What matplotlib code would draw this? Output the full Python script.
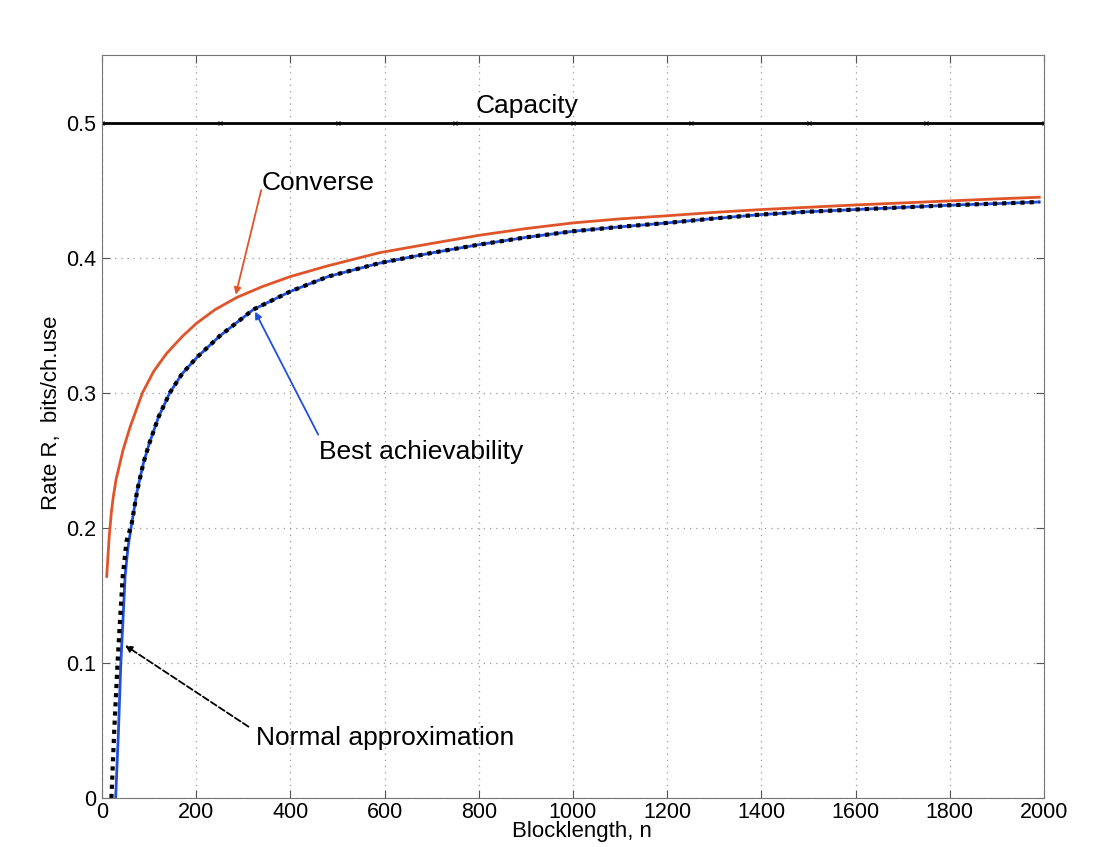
import matplotlib
matplotlib.use("Agg")
import matplotlib.pyplot as plt

plt.rcParams['font.family'] = ['Liberation Sans', 'DejaVu Sans']

# values
cap_n = [0, 250, 500, 750, 1000, 1250, 1500, 1750, 2000]
cap_r = [0.5, 0.5, 0.5, 0.5, 0.5, 0.5, 0.5, 0.5, 0.5]

conv_n = [10, 15, 20, 24, 30, 45, 60, 86, 110, 137, 170, 201, 240, 286, 340, 400,
          480, 590, 700, 800, 900, 1000, 1100, 1200, 1300, 1400, 1500, 1600, 1700,
          1800, 1900, 1990]
conv_r = [0.164, 0.192, 0.212, 0.223, 0.236, 0.258, 0.275, 0.300, 0.316, 0.329,
          0.3415, 0.3515, 0.3615, 0.3705, 0.3785, 0.386, 0.394, 0.4037, 0.4105, 0.4165,
          0.4215, 0.4257, 0.4287, 0.431, 0.4335, 0.4356, 0.4373, 0.439, 0.4405,
          0.442, 0.4435, 0.4447]

ach_n = [29, 35, 40, 45, 49, 55, 63, 75, 88, 100, 120, 144, 170, 201, 250, 321,
         400, 480, 590, 700, 800, 900, 1000, 1100, 1200, 1300, 1400, 1500, 1600,
         1700, 1800, 1900, 1990]
ach_r = [0.0, 0.05, 0.10, 0.135, 0.164, 0.185, 0.203, 0.228, 0.248, 0.262, 0.282,
         0.300, 0.314, 0.326, 0.342, 0.3615, 0.375, 0.386, 0.396, 0.4035, 0.4096,
         0.415, 0.4195, 0.4228, 0.4257, 0.429, 0.4319, 0.434, 0.4356, 0.4372,
         0.4388, 0.4400, 0.4412]

norm_n = [20, 26, 33, 38, 44, 52, 63, 75, 88, 100, 120, 144, 170, 201, 250, 321,
          400, 480, 590, 700, 800, 900, 1000, 1100, 1200, 1300, 1400, 1500, 1600,
          1700, 1800, 1900, 1990]
norm_r = [0.0, 0.05, 0.10, 0.13, 0.164, 0.19, 0.203, 0.228, 0.248, 0.262, 0.282,
          0.300, 0.314, 0.326, 0.342, 0.3615, 0.375, 0.386, 0.396, 0.4035, 0.4096,
          0.415, 0.4195, 0.4228, 0.4257, 0.429, 0.4319, 0.434, 0.4356, 0.4372,
          0.4388, 0.4400, 0.4412]

fig = plt.figure(figsize=(11.12, 8.47), dpi=100)
ax = fig.add_axes([102 / 1112, 1 - 798 / 847, 942 / 1112, 743 / 847])

ax.plot(cap_n, cap_r, color='black', lw=2, marker='x', ms=3, mew=0.8)
ax.plot(conv_n, conv_r, color='#e0542a', lw=2)
ax.plot(ach_n, ach_r, color='#1f4fe0', lw=2)
ax.plot(norm_n, norm_r, color='black', lw=3, linestyle=(0, (1, 1.2)))

ax.set_xlim(0, 2000)
ax.set_ylim(0, 0.55)
ax.set_xticks(range(0, 2001, 200))
ax.set_yticks([0, 0.1, 0.2, 0.3, 0.4, 0.5])
ax.set_yticklabels(['0', '0.1', '0.2', '0.3', '0.4', '0.5'])
ax.tick_params(direction='in', top=True, right=True, labelsize=15.5, length=6,
               color='#555555', pad=4)
ax.tick_params(axis='x', pad=3)
for s in ax.spines.values():
    s.set_color('#777777')
ax.grid(True, linestyle=(0, (1, 4)), color='#999999', lw=0.9)

ax.set_xlabel('Blocklength, n', fontsize=16)
ax.xaxis.set_label_coords(0.51, -0.031, transform=ax.transAxes)
ax.xaxis.label.set_va('top')
ax.set_ylabel('Rate R,  bits/ch.use', fontsize=16)
ax.yaxis.set_label_coords(-0.042, 0.518)

ax.text(902, 0.512, 'Capacity', fontsize=19, ha='center', va='center')

ax.text(459, 0.455, 'Converse', fontsize=19, ha='center', va='center')
ax.annotate('', xy=(284, 0.3726), xytext=(338, 0.450),
            arrowprops=dict(arrowstyle='-|>', color='#e0542a', lw=1.3,
                            shrinkA=0, shrinkB=0, mutation_scale=10))

ax.text(677, 0.256, 'Best achievability', fontsize=19, ha='center', va='center')
ax.annotate('', xy=(325, 0.360), xytext=(459, 0.269),
            arrowprops=dict(arrowstyle='-|>', color='#1f4fe0', lw=1.3,
                            shrinkA=0, shrinkB=0, mutation_scale=10))

ax.text(601, 0.0444, 'Normal approximation', fontsize=19, ha='center', va='center')
ax.annotate('', xy=(49, 0.113), xytext=(311, 0.0528),
            arrowprops=dict(arrowstyle='-|>', color='black', lw=1.3, ls='--',
                            shrinkA=0, shrinkB=0, mutation_scale=10))

fig.savefig('out.png', dpi=100)
